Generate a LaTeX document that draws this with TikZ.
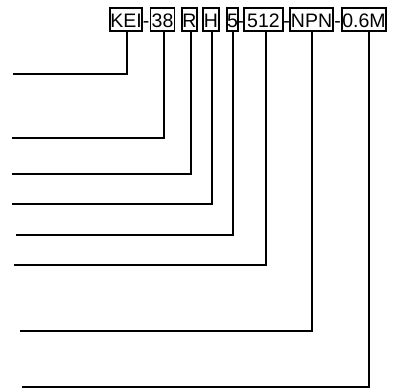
\documentclass[tikz,border=0pt]{standalone}
\usepackage{fontspec}
\setmainfont{Liberation Sans}
\begin{document}
\begin{tikzpicture}[x=1pt,y=-1pt,
  codebox/.style={draw,line width=1.3pt,inner xsep=0pt,inner ysep=0pt,minimum height=23pt,text height=15pt,text depth=0pt,font=\fontsize{19.5}{19.5}\selectfont,anchor=center},
  hyph/.style={inner sep=0pt,text height=15pt,text depth=0pt,font=\fontsize{19.5}{19.5}\selectfont},
  lead/.style={line width=1.3pt}]
\useasboundingbox (0,0) rectangle (395,391);
% boxes
\node[codebox,minimum width=32pt] (kei) at (126,19.5) {KEI};
\node[codebox,minimum width=24pt] (b38) at (162.5,19.5) {38};
\node[codebox,minimum width=15pt] (bR) at (189.5,19.5) {R};
\node[codebox,minimum width=16pt] (bH) at (211,19.5) {H};
\node[codebox,minimum width=9pt] (b5) at (232.5,19.5) {5};
\node[codebox,minimum width=39pt] (b512) at (263.5,19.5) {512};
\node[codebox,minimum width=43pt] (bNPN) at (311.5,19.5) {NPN};
\node[codebox,minimum width=44pt] (b06) at (364,19.5) {0.6M};
% hyphens
\node[hyph] (h1) at (146,19.5) {-};
\node[hyph] (h2) at (240.5,19.5) {-};
\node[hyph] (h3) at (286.5,19.5) {-};
\node[hyph] (h4) at (337.5,19.5) {-};
% line ends
\coordinate (ekei) at (13,74);
\coordinate (e38) at (12,138);
\coordinate (eR) at (12,174);
\coordinate (eH) at (12,204);
\coordinate (e5) at (16,235);
\coordinate (e512) at (14,265);
\coordinate (eNPN) at (20,331);
\coordinate (e06) at (22,387);
% leaders
\draw[lead] (127,0 |- kei.south) |- (ekei);
\draw[lead] (164,0 |- b38.south) |- (e38);
\draw[lead] (191,0 |- bR.south) |- (eR);
\draw[lead] (212,0 |- bH.south) |- (eH);
\draw[lead] (233,0 |- b5.south) |- (e5);
\draw[lead] (266,0 |- b512.south) |- (e512);
\draw[lead] (312,0 |- bNPN.south) |- (eNPN);
\draw[lead] (369,0 |- b06.south) |- (e06);
\end{tikzpicture}
\end{document}
